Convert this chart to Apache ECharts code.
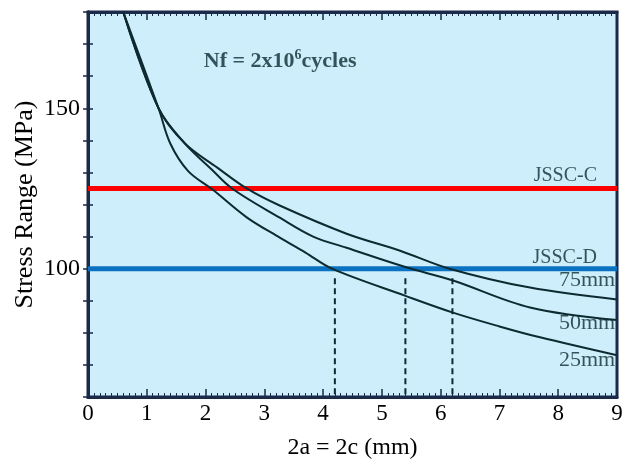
<!DOCTYPE html>
<html><head><meta charset="utf-8">
<script src="https://cdn.jsdelivr.net/npm/echarts@6/dist/echarts.min.js"></script>
<style>html,body{margin:0;padding:0;background:#fff}#c{width:635px;height:461px}</style>
</head><body><div id="c"></div>
<script>
// Data
const curve25 = [[0.6,180],[1.2,150],[1.4,139],[1.7,130.5],[2.13,124.5],[2.7,116],[3.27,109.6],[3.7,105],[4.15,100],[5.39,91.6],[6.21,86.3],[7.0,82],[7.69,78.6],[9,73]];
const curve50 = [[0.6,180],[1.2,150],[1.65,139],[2.1,131],[2.45,125],[3.27,115.8],[3.83,110],[4.4,106.5],[5.4,100.5],[6.21,96.3],[7.52,87.9],[9,84]];
const curve75 = [[0.6,180],[1.2,150],[1.65,139],[2.2,131.5],[2.7,125],[3.27,119.6],[4.4,110.9],[5.31,105.6],[6.15,100],[7.52,94.1],[9,90.4]];
const jsscC = 125;
const jsscD = 100;
const dropX = [4.2, 5.4, 6.2];
const yLabels = [100, 150];
const curveLabels = [['75mm',8.97,96.3],['50mm',8.97,82.9],['25mm',8.97,71.4]];
const lineLabels = [['JSSC-C',8.66,128.9],['JSSC-D',8.66,103.4]];
const noteText = 'Nf = 2x10{s|6}cycles';
const notePos = [3.27,164.6];

const FONT = 'Liberation Serif';
const INK = '#0e2a30';
const chart = echarts.init(document.getElementById('c'));

const curveStyle = {type:'line', symbol:'none', smooth:0.35, lineStyle:{color:INK,width:2}, z:4};
const series = [
  {type:'line', data:[[0,jsscC],[9,jsscC]], lineStyle:{color:'#ff0000',width:5}, symbol:'none', z:3},
  {type:'line', data:[[0,jsscD],[9,jsscD]], lineStyle:{color:'#0a72c0',width:5}, symbol:'none', z:3},
  Object.assign({data:curve25}, curveStyle),
  Object.assign({data:curve50}, curveStyle),
  Object.assign({data:curve75}, curveStyle)
];
dropX.forEach(x => series.push({type:'line', data:[[x,jsscD-3],[x,60]], lineStyle:{color:INK,width:2,type:[6,4]}, symbol:'none', z:2}));
series.push({type:'scatter', symbolSize:0, z:6,
  data: curveLabels.map(d=>({value:[d[1],d[2]], name:d[0]})),
  label:{show:true, formatter:p=>p.name, position:'left', distance:0, color:INK, fontFamily:FONT, fontSize:22}});
series.push({type:'scatter', symbolSize:0, z:6,
  data: lineLabels.map(d=>({value:[d[1],d[2]], name:d[0]})),
  label:{show:true, formatter:p=>p.name, position:'left', distance:0, color:INK, fontFamily:FONT, fontSize:20}});
series.push({type:'scatter', symbolSize:0, z:6,
  data:[{value:notePos}],
  label:{show:true, position:'inside', formatter:noteText, color:INK, fontFamily:FONT, fontSize:22, fontWeight:'bold',
    rich:{s:{fontSize:14, fontFamily:FONT, fontWeight:'bold', color:INK, verticalAlign:'top', padding:[0,0,12,0]}}}});

chart.setOption({
  animation:false,
  grid:{left:88, right:18, top:12, bottom:64, outerBoundsMode:'none', containLabel:false, show:true, backgroundColor:'#cdeefa', borderColor:'#1b2a48', borderWidth:3},
  xAxis:[
    {type:'value', min:0, max:9, interval:1, position:'bottom',
     name:'2a = 2c (mm)', nameLocation:'middle', nameGap:39, nameTextStyle:{fontFamily:FONT, fontSize:24, color:'#000'},
     axisLine:{show:true, lineStyle:{color:'#1b2a48', width:3}},
     axisTick:{show:true, inside:true, length:8, lineStyle:{color:'#1b2a48', width:1.5}},
     minorTick:{show:true, splitNumber:10, length:4, lineStyle:{color:'#1b2a48', width:1}},
     axisLabel:{fontFamily:FONT, fontSize:23, color:'#000', margin:5},
     splitLine:{show:false}},
    {type:'value', min:0, max:9, interval:1, position:'top',
     axisLine:{show:true, lineStyle:{color:'#1b2a48', width:3}},
     axisTick:{show:true, inside:true, length:8, lineStyle:{color:'#1b2a48', width:1.5}},
     minorTick:{show:true, splitNumber:10, length:4, lineStyle:{color:'#1b2a48', width:1}},
     axisLabel:{show:false}, splitLine:{show:false}}
  ],
  yAxis:[
    {type:'value', min:60, max:180, interval:10, position:'left',
     name:'Stress Range (MPa)', nameLocation:'middle', nameGap:50, nameMoveOverlap:false, nameTextStyle:{fontFamily:FONT, fontSize:26, color:'#000'},
     axisLine:{show:true, lineStyle:{color:'#1b2a48', width:3}},
     axisTick:{show:true, inside:true, length:5, lineStyle:{color:'#1b2a48', width:1.5}},
     axisLabel:{fontFamily:FONT, fontSize:24, color:'#000', margin:8, formatter:v=>yLabels.includes(v)?String(v):''},
     splitLine:{show:false}},
    {type:'value', min:60, max:180, interval:10, position:'right',
     axisLine:{show:true, lineStyle:{color:'#1b2a48', width:3}},
     axisTick:{show:true, inside:true, length:5, lineStyle:{color:'#1b2a48', width:1.5}},
     axisLabel:{show:false}, splitLine:{show:false}}
  ],
  series: series
});
</script></body></html>
